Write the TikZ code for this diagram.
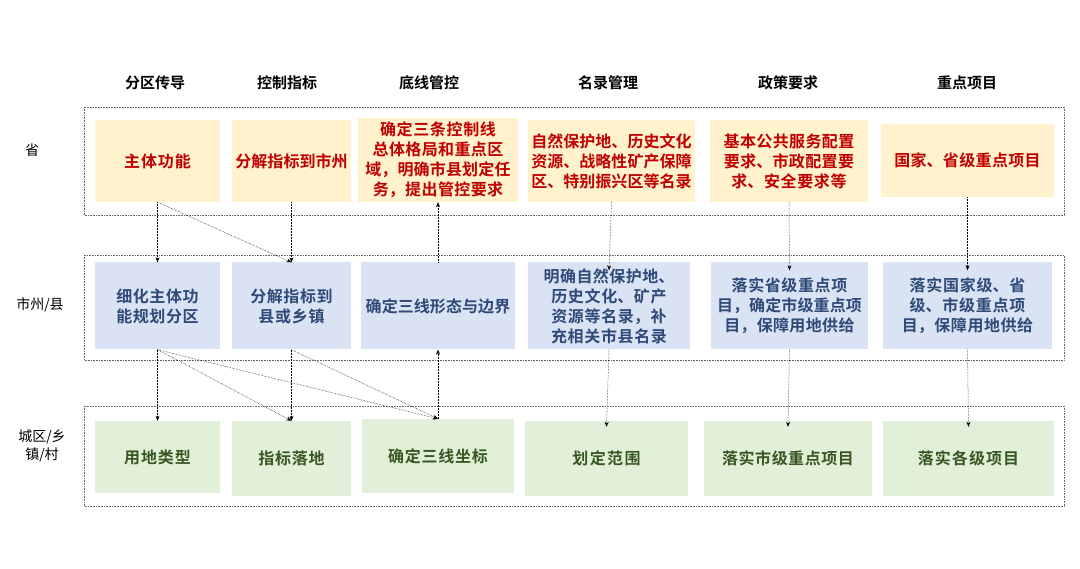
\documentclass[tikz,border=0pt]{standalone}
\usepackage{fontspec}
\XeTeXlinebreaklocale "zh"
\XeTeXlinebreakskip=0pt plus 1pt
\newfontfamily\cjk{Noto Sans CJK SC}
\newfontfamily\cjkb{Noto Sans CJK SC Bold}
\usetikzlibrary{arrows.meta}
\definecolor{yf}{HTML}{FFF2CC}\definecolor{yt}{HTML}{C00000}
\definecolor{bf}{HTML}{DAE3F3}\definecolor{bt}{HTML}{2F4A78}
\definecolor{gf}{HTML}{E2F0D9}\definecolor{gt}{HTML}{385723}
\begin{document}
\begin{tikzpicture}[x=1pt,y=-1pt,
 row/.style={draw=gray!80!black,densely dotted,line width=0.6pt},
 bx/.style={inner sep=1pt,align=center,font=\cjkb\fontsize{16}{20}\selectfont},
 ybx/.style={bx,fill=yf,text=yt},
 bbx/.style={bx,fill=bf,text=bt},
 gbx/.style={bx,fill=gf,text=gt},
 hd/.style={font=\cjkb\fontsize{15}{18}\selectfont},
 lb/.style={font=\cjk\fontsize{14}{18}\selectfont,align=center},
 ar/.style={densely dotted,line width=0.5pt,-{Stealth[length=5pt,width=4pt]}}]
\useasboundingbox (0,0) rectangle (1080,569);
\draw[row] (84,107) rectangle (1064,215);
\draw[row] (84,255) rectangle (1064,360);
\draw[row] (84,406) rectangle (1064,506);
\foreach \x/\t [count=\i] in {155/分区传导,287/控制指标,429/底线管控,608/名录管理,788/政策要求,967/重点项目}
  \node[hd] (h\i) at (\x,83) {\t};
\node[lb] (l1) at (32,150) {省};
\node[lb] (l2) at (40,305) {市州/县};
\node[lb] (l3) at (42,446) {城区/乡\\镇/村};
% row 1
\node[ybx,minimum width=125,minimum height=82,text width=121] (a1) at (157.5,161) {主体功能};
\node[ybx,minimum width=119,minimum height=82,text width=115] (a2) at (291.5,161) {分解指标到市州};
\node[ybx,minimum width=160,minimum height=84,text width=156] (a3) at (438,160) {确定三条控制线总体格局和重点区域，明确市县划定任务，提出管控要求};
\node[ybx,minimum width=167,minimum height=82,text width=163] (a4) at (611.5,161) {自然保护地、历史文化资源、战略性矿产保障区、特别振兴区等名录};
\node[ybx,minimum width=158,minimum height=82,text width=154] (a5) at (789,161) {基本公共服务配置要求、市政配置要求、安全要求等};
\node[ybx,minimum width=173,minimum height=73,text width=169] (a6) at (967.5,160.5) {国家、省级重点项目};
% row 2
\node[bbx,minimum width=125,minimum height=87,text width=121] (b1) at (157.5,306) {细化主体功能规划分区};
\node[bbx,minimum width=119,minimum height=87,text width=115] (b2) at (291.5,306) {分解指标到县或乡镇};
\node[bbx,minimum width=154,minimum height=87,text width=150] (b3) at (438,306) {确定三线形态与边界};
\node[bbx,minimum width=162,minimum height=87,text width=158] (b4) at (609,306) {明确自然保护地、历史文化、矿产资源等名录，补充相关市县名录};
\node[bbx,minimum width=157,minimum height=87,text width=153] (b5) at (789.5,306) {落实省级重点项目，确定市级重点项目，保障用地供给};
\node[bbx,minimum width=169,minimum height=87,text width=165] (b6) at (967.5,306) {落实国家级、省级、市级重点项目，保障用地供给};
% row 3
\node[gbx,minimum width=125,minimum height=72,text width=121] (c1) at (157.5,457) {用地类型};
\node[gbx,minimum width=119,minimum height=75,text width=115] (c2) at (291.5,458.5) {指标落地};
\node[gbx,minimum width=152,minimum height=74,text width=148] (c3) at (438,456) {确定三线坐标};
\node[gbx,minimum width=163,minimum height=75,text width=159] (c4) at (606.5,458.5) {划定范围};
\node[gbx,minimum width=168,minimum height=75,text width=164] (c5) at (788,458.5) {落实市级重点项目};
\node[gbx,minimum width=171,minimum height=75,text width=167] (c6) at (968.5,458.5) {落实各级项目};
% arrows row1 -> row2
\draw[ar] (a1.south) -- (b1.north);
\draw[ar] (a1.south) -- (b2.north);
\draw[ar] (a2.south) -- (b2.north);
\draw[ar] (b3.north) -- (a3.south);
\draw[ar] (a4.south) -- ([yshift=-8]b4.north);
\draw[ar] (a5.south) -- ([yshift=-8]b5.north);
\draw[ar] (a6.south) -- ([yshift=-8]b6.north);
% row2 -> row3
\draw[ar] (b1.south) -- (c1.north);
\draw[ar] (b1.south) -- (c2.north);
\draw[ar] (b1.south) -- (c3.north);
\draw[ar] (b2.south) -- (c2.north);
\draw[ar] (b2.south) -- (c3.north);
\draw[ar] (c3.north) -- (b3.south);
\draw[ar] (b4.south) -- ([yshift=-6]c4.north);
\draw[ar] (b5.south) -- ([yshift=-6]c5.north);
\draw[ar] (b6.south) -- ([yshift=-6]c6.north);
\end{tikzpicture}
\end{document}
